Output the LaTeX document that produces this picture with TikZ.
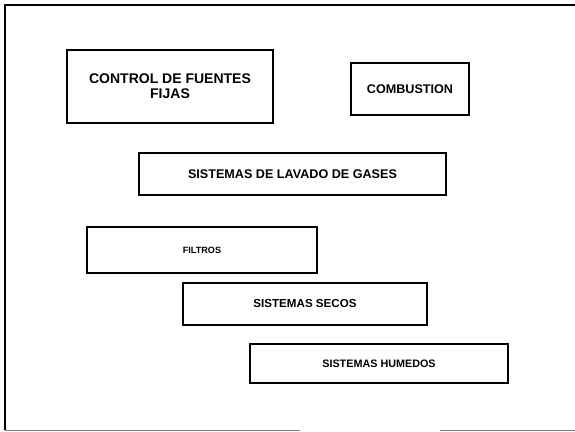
\documentclass[tikz,border=0pt]{standalone}
\usepackage{fontspec}
\setmainfont{Liberation Sans}
\begin{document}
\begin{tikzpicture}[x=1pt,y=-1pt,
  boxn/.style={draw=black,line width=1.1pt,inner sep=0pt,align=center,font=\bfseries},
  frameline/.style={line width=2pt,black}]
\useasboundingbox (0,0) rectangle (575,431);
% frame
\coordinate (tl) at (5,5);
\coordinate (tr) at (575,5);
\coordinate (bl) at (5,430);
\coordinate (b1) at (300,430);
\coordinate (b2) at (440,430);
\coordinate (br) at (575,430);
\draw[frameline] (tr) -- (tl) -- (bl);
\draw[gray,line width=1pt] (bl) -- (b1);
\draw[gray,line width=1pt] (b2) -- (br);
% boxes
\node[boxn,minimum width=206pt,minimum height=73pt,font=\bfseries\fontsize{14}{15}\selectfont] (ctrl) at (170,86.5) {CONTROL DE FUENTES\\FIJAS};
\node[boxn,minimum width=118pt,minimum height=52pt,font=\bfseries\fontsize{12.6}{14}\selectfont] (comb) at (410,89) {COMBUSTION};
\node[boxn,minimum width=307pt,minimum height=42pt,font=\bfseries\fontsize{12.6}{14}\selectfont] (lav) at (292.5,174) {SISTEMAS DE LAVADO DE GASES};
\node[boxn,minimum width=230pt,minimum height=46pt,font=\bfseries\fontsize{9.1}{11}\selectfont] (fil) at (202,250) {FILTROS};
\node[boxn,minimum width=244pt,minimum height=42pt,font=\bfseries\fontsize{11.6}{13}\selectfont] (sec) at (305,304) {SISTEMAS SECOS};
\node[boxn,minimum width=258pt,minimum height=39pt,font=\bfseries\fontsize{10.8}{12}\selectfont] (hum) at (379,363.5) {SISTEMAS HUMEDOS};
\end{tikzpicture}
\end{document}
